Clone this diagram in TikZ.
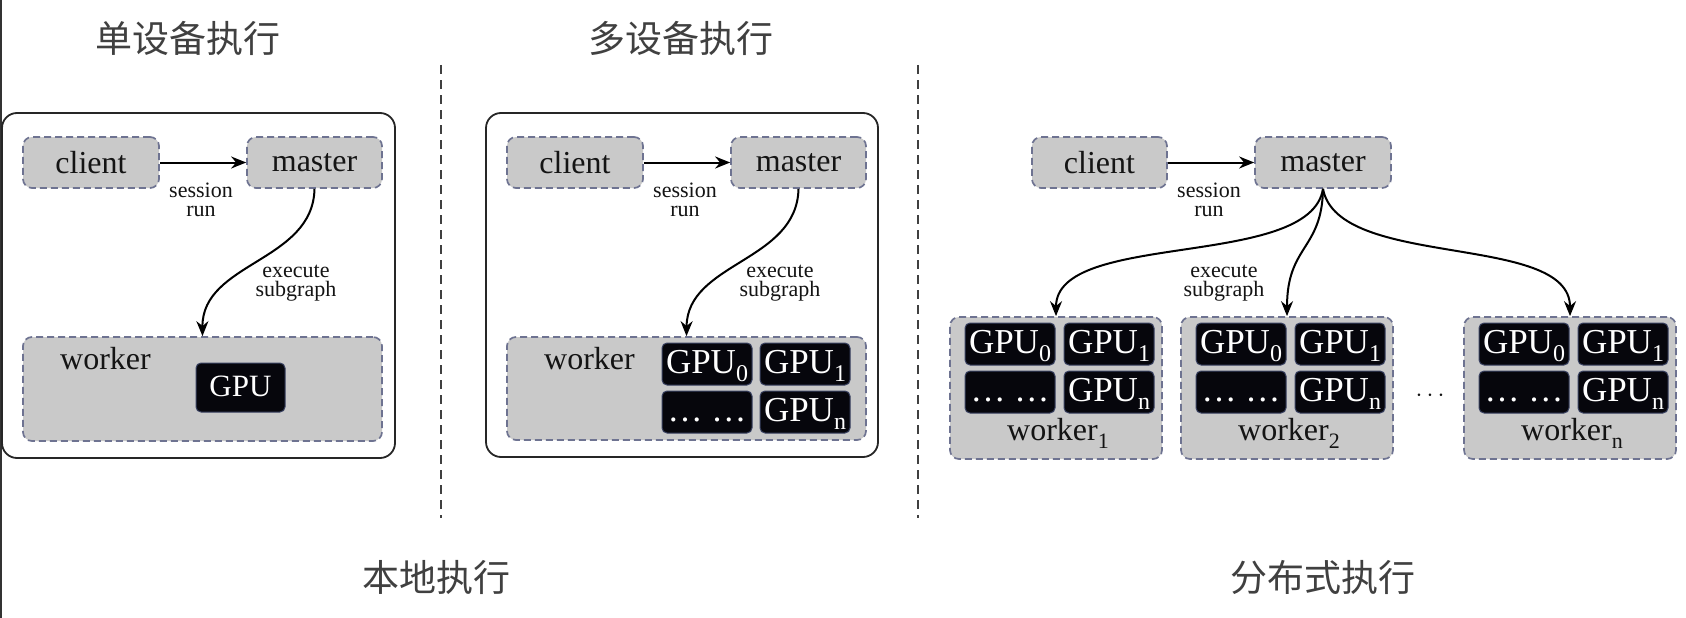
\documentclass[tikz,border=0pt]{standalone}
\usepackage{fontspec}
\setmainfont{Liberation Serif}
\newfontfamily\cjk{Noto Sans CJK SC}
\usetikzlibrary{arrows.meta}
\definecolor{boxg}{HTML}{C9C9C9}
\definecolor{bordc}{HTML}{6E7391}
\definecolor{gpuk}{HTML}{06060C}
\definecolor{gpub}{HTML}{3A4262}
\definecolor{ink}{HTML}{141414}
\newcommand\sbs[1]{\raisebox{-8pt}{\fontsize{24}{24}\selectfont #1}}
\newcommand\sbw[1]{\raisebox{-8pt}{\fontsize{22}{22}\selectfont #1}}
\begin{document}
\begin{tikzpicture}[x=1pt,y=-1pt,
 greybox/.style={draw=bordc, fill=boxg, line width=1.7pt, dash pattern=on 7pt off 4pt, rounded corners=9pt, inner sep=0pt},
 gpubox/.style={draw=gpub, fill=gpuk, line width=1pt, rounded corners=5pt, inner sep=0pt, text=white, font=\fontsize{35}{35}\selectfont, minimum width=90pt, minimum height=42pt, text height=24pt, text depth=6pt},
 lbl/.style={text=ink, font=\fontsize{32}{36}\selectfont, inner sep=0pt},
 small/.style={text=ink, font=\fontsize{22}{19.5}\selectfont, align=center, inner sep=0pt},
 heading/.style={text=black!75, font=\cjk\fontsize{37}{40}\selectfont, inner sep=0pt},
 frame/.style={draw=black!85, line width=1.8pt, rounded corners=15pt},
 arr/.style={draw=black, line width=2pt, -{Stealth[length=15pt,width=12pt]}},
 divider/.style={draw=black!75, line width=1.3pt, dash pattern=on 9pt off 6pt},
]
\path[fill=white] (0,0) rectangle (1686,618);
\useasboundingbox (0,0) rectangle (1686,618);
\draw[draw=black!80, line width=1.5pt] (1,0) -- (1,618);

% headings
\node[heading] (h1) at (188,38) {单设备执行};
\node[heading] (h2) at (681,38) {多设备执行};
\node[heading] (h3) at (436,577) {本地执行};
\node[heading] (h4) at (1323,577) {分布式执行};

% dividers
\draw[divider] (441,65) -- (441,518);
\draw[divider] (918,65) -- (918,518);

% ---------- panel 1 ----------
\draw[frame] (2,113) rectangle (395,458);
\node[greybox, lbl, minimum width=136pt, minimum height=51pt] (c1) at (91,162.5) {client};
\node[greybox, lbl, minimum width=135pt, minimum height=51pt] (m1) at (314.5,162.5) {master};
\node[greybox, minimum width=359pt, minimum height=104pt] (w1) at (202.5,389) {};
\node[lbl, anchor=base west] (w1l) at (60,369) {worker};
\node[gpubox, font=\fontsize{31}{31}\selectfont, minimum width=89pt, minimum height=49pt] (g1) at (240.5,387.5) {GPU};
\draw[arr] (c1) -- (m1);
\node[small] (sr1) at (201,200) {session\\run};
\draw[arr] (m1.south) .. controls (313,262) and (202,262) .. (w1.north);
\node[small] (es1) at (296,283) {execute\\subgraph};

% ---------- panel 2 ----------
\draw[frame] (486,113) rectangle (878,457);
\node[greybox, lbl, minimum width=136pt, minimum height=51pt] (c2) at (575,162.5) {client};
\node[greybox, lbl, minimum width=135pt, minimum height=51pt] (m2) at (798.5,162.5) {master};
\node[greybox, minimum width=359pt, minimum height=103pt] (w2) at (686.5,388.5) {};
\node[lbl, anchor=base west] (w2l) at (544,369) {worker};
\node[gpubox] (g20) at (707,364) {GPU\sbs{0}};
\node[gpubox] (g21) at (805,364) {GPU\sbs{1}};
\node[gpubox] (g2d) at (707,412) {\ldots\ \ldots};
\node[gpubox] (g2n) at (805,412) {GPU\sbs{n}};
\draw[arr] (c2) -- (m2);
\node[small] (sr2) at (685,200) {session\\run};
\draw[arr] (m2.south) .. controls (797,262) and (687,262) .. (w2.north);
\node[small] (es2) at (780,283) {execute\\subgraph};

% ---------- panel 3 ----------
\node[greybox, lbl, minimum width=135pt, minimum height=51pt] (c3) at (1099.5,162.5) {client};
\node[greybox, lbl, minimum width=136pt, minimum height=51pt] (m3) at (1323,162.5) {master};
\draw[arr] (c3) -- (m3);
\node[small] (sr3) at (1209,200) {session\\run};
\foreach \nm/\L/\s in {a/950/1,b/1181/2,c/1464/n}{
  \node[greybox, minimum width=212pt, minimum height=142pt] (w\nm) at (\L+106,388) {};
  \node[gpubox] (w\nm-0) at (\L+60,344) {GPU\sbs{0}};
  \node[gpubox] (w\nm-1) at (\L+159,344) {GPU\sbs{1}};
  \node[gpubox] (w\nm-d) at (\L+60,392) {\ldots\ \ldots};
  \node[gpubox] (w\nm-n) at (\L+159,392) {GPU\sbs{n}};
  \node[lbl, anchor=base] (w\nm-l) at (\L+108,440) {worker\sbw{\s}};
}
\node[text=ink, font=\fontsize{30}{30}\selectfont, inner sep=0pt] (dots) at (1430,396) {$\cdots$};
\draw[arr] (m3.south) .. controls (1310,270) and (1056,230) .. (wa.north);
\draw[arr] (m3.south) .. controls (1322,250) and (1287,245) .. (wb.north);
\draw[arr] (m3.south) .. controls (1338,270) and (1570,232) .. (wc.north);
\node[small] (es3) at (1224,283) {execute\\subgraph};
\end{tikzpicture}
\end{document}
